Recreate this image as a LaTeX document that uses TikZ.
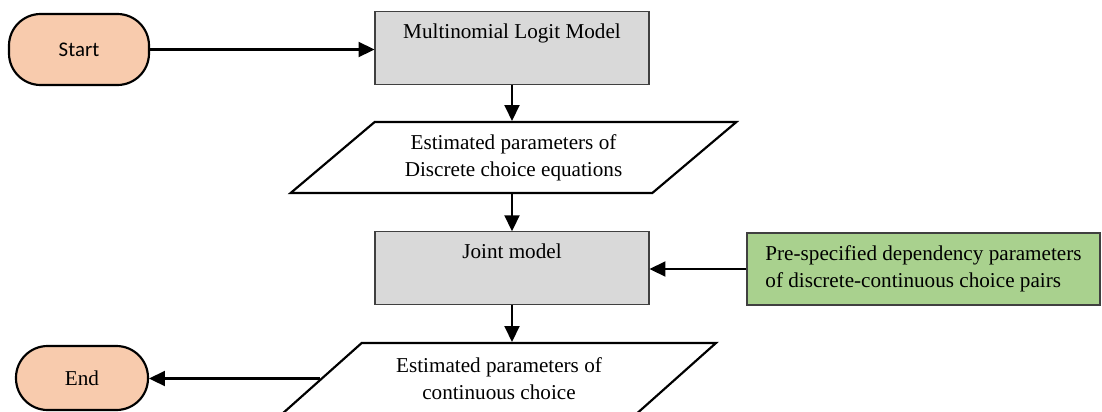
\documentclass[tikz,border=0pt]{standalone}
\usepackage{fontspec}
\setmainfont{Liberation Serif}
\newfontfamily\calibri{Carlito}
\usetikzlibrary{arrows.meta,shapes.geometric}

\definecolor{peach}{HTML}{F8CBAD}
\definecolor{boxgray}{HTML}{D9D9D9}
\definecolor{leafgreen}{HTML}{A9D18E}

\begin{document}
\begin{tikzpicture}[x=0.6pt, y=-0.6pt,
    font=\fontsize{12.7}{16}\selectfont,
    terminal/.style={draw=black, line width=1.3pt, fill=peach, rounded corners=19pt, inner sep=0pt},
    process/.style={draw=black!75, line width=0.7pt, fill=boxgray, minimum width=164.4pt, minimum height=43.5pt, align=center},
    io/.style={draw=black, line width=1.3pt, trapezium, trapezium left angle=35, trapezium right angle=145,
        trapezium stretches=true, minimum width=268.2pt, minimum height=42.6pt, align=center, inner sep=0pt},
    param/.style={draw=black!75, line width=0.8pt, fill=leafgreen, minimum width=211.8pt, minimum height=43.2pt, align=left},
    flow/.style={line width=1.3pt, -{Triangle[length=9.5pt, width=9pt]}}]
    \useasboundingbox (0,0) rectangle (1102,412);
    \node[terminal, minimum width=84pt, minimum height=42.6pt, font=\calibri\fontsize{12.5}{14}\selectfont] (start) at (79,49.5) {Start};
    \node[process] (mlm) at (512,48) {Multinomial Logit Model\\ \strut};
    \node[io] (est1) at (513.5,157.5) {Estimated parameters of\\Discrete choice equations};
    \node[process] (joint) at (512,268) {Joint model\\ \strut};
    \node[param] (prior) at (923.5,269) {Pre-specified dependency parameters\\of discrete-continuous choice pairs};
    \node[io, minimum width=260.4pt] (est2) at (499,378.5) {Estimated parameters of\\continuous choice};
    \node[terminal, minimum width=79.2pt, minimum height=38.4pt] (end) at (82,378) {End};
    \draw[flow] (start.east) -- (start.east -| mlm.west);
    \draw[flow] (mlm.south) -- (mlm.south |- est1.north);
    \draw[flow] (est1.south -| joint.north) -- (joint.north);
    \draw[flow] (prior.west) -- (prior.west -| joint.east);
    \draw[flow] (joint.south) -- (joint.south |- est2.north);
    \draw[flow] (est2.west) -- (est2.west -| end.east);
\end{tikzpicture}
\end{document}
